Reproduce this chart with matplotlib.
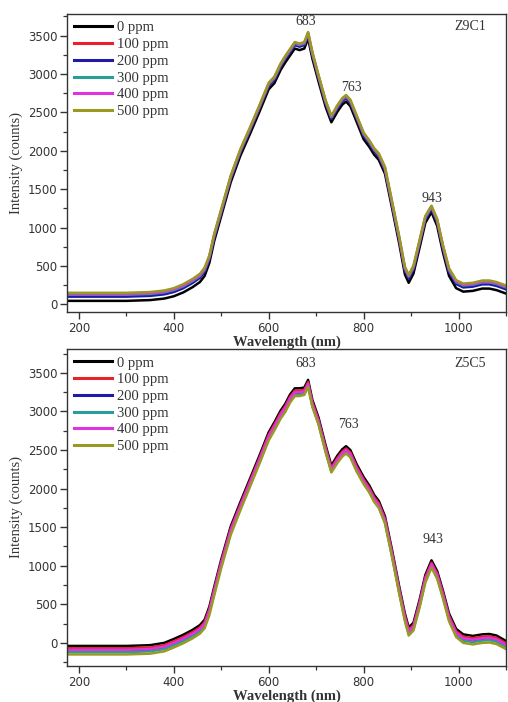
import numpy as np
import matplotlib.pyplot as plt
from matplotlib.ticker import MultipleLocator

# wavelength grid (nm), shared by both samples
wl = [175, 200, 250, 300, 350, 380, 400, 420, 440, 455,
      465, 475, 485, 500, 520, 540, 560, 580, 600, 612,
      625, 635, 645, 655, 665, 675, 683, 692, 705, 720,
      732, 745, 755, 763, 772, 785, 800, 812, 822, 832,
      845, 860, 875, 887, 895, 905, 918, 930, 943, 955,
      967, 980, 995, 1010, 1030, 1050, 1065, 1080, 1100]

labels = ['0 ppm', '100 ppm', '200 ppm', '300 ppm', '400 ppm', '500 ppm']
colors = ['#000000', '#e8212b', '#1c1ca8', '#2a9d98', '#e033e0', '#9a9a22']

# Z9C1 spectra
z9_0 = [45, 45, 45, 45, 55, 75, 105, 155, 225, 290,
        370, 540, 820, 1150, 1590, 1930, 2210, 2500, 2800, 2880,
        3050, 3150, 3240, 3330, 3310, 3330, 3460, 3200, 2900, 2570,
        2370, 2510, 2600, 2640, 2580, 2380, 2150, 2050, 1950, 1880,
        1700, 1250, 790, 390, 280, 400, 740, 1060, 1200, 1020,
        680, 370, 210, 165, 175, 205, 205, 185, 140]
z9_100 = [110, 110, 110, 110, 120, 140, 170, 220, 290, 355,
          435, 600, 875, 1200, 1640, 1980, 2260, 2550, 2850, 2930,
          3100, 3200, 3290, 3380, 3360, 3380, 3510, 3250, 2950, 2620,
          2420, 2560, 2650, 2690, 2630, 2430, 2200, 2100, 2000, 1930,
          1750, 1300, 845, 450, 345, 465, 800, 1115, 1255, 1075,
          740, 430, 275, 230, 240, 270, 270, 250, 205]
z9_200 = [100, 100, 100, 100, 110, 130, 160, 210, 280, 345,
          425, 590, 865, 1195, 1635, 1975, 2255, 2545, 2845, 2925,
          3095, 3195, 3285, 3375, 3355, 3375, 3505, 3245, 2945, 2615,
          2415, 2555, 2645, 2685, 2625, 2425, 2195, 2095, 1995, 1925,
          1745, 1295, 840, 440, 335, 455, 790, 1105, 1245, 1065,
          730, 420, 265, 220, 230, 260, 260, 240, 195]
z9_300 = [125, 125, 125, 125, 135, 155, 185, 235, 305, 370,
          450, 615, 890, 1215, 1655, 1995, 2275, 2565, 2865, 2945,
          3115, 3215, 3305, 3395, 3375, 3395, 3525, 3265, 2965, 2635,
          2435, 2575, 2665, 2705, 2645, 2445, 2215, 2115, 2015, 1945,
          1765, 1315, 860, 465, 360, 480, 815, 1130, 1265, 1090,
          755, 445, 290, 245, 255, 285, 285, 265, 220]
z9_400 = [135, 135, 135, 135, 145, 165, 195, 245, 315, 380,
          460, 625, 900, 1225, 1665, 2005, 2285, 2575, 2875, 2955,
          3125, 3225, 3315, 3405, 3385, 3405, 3535, 3275, 2975, 2645,
          2445, 2585, 2675, 2715, 2655, 2455, 2225, 2125, 2025, 1955,
          1775, 1325, 870, 475, 370, 490, 825, 1140, 1275, 1100,
          765, 455, 300, 255, 265, 295, 295, 275, 230]
z9_500 = [150, 150, 150, 150, 160, 180, 210, 262, 332, 398,
          478, 640, 915, 1240, 1675, 2015, 2295, 2585, 2885, 2965,
          3135, 3235, 3325, 3415, 3395, 3415, 3545, 3285, 2985, 2655,
          2455, 2595, 2685, 2725, 2665, 2465, 2235, 2135, 2035, 1965,
          1790, 1340, 885, 490, 385, 505, 840, 1150, 1285, 1110,
          775, 470, 315, 270, 280, 310, 310, 290, 245]

# Z5C5 spectra
z5_0 = [-40, -40, -40, -40, -30, 0, 50, 105, 170, 230,
        300, 470, 720, 1080, 1510, 1820, 2120, 2420, 2730, 2860,
        3010, 3100, 3220, 3300, 3300, 3310, 3410, 3150, 2920, 2560,
        2300, 2430, 2510, 2550, 2500, 2320, 2150, 2040, 1920, 1840,
        1640, 1200, 730, 380, 200, 260, 560, 880, 1070, 930,
        680, 380, 180, 110, 90, 110, 115, 95, 25]
z5_100 = [-70, -70, -70, -70, -60, -30, 20, 75, 140, 200,
          270, 440, 690, 1050, 1480, 1790, 2090, 2390, 2700, 2830,
          2980, 3070, 3190, 3270, 3270, 3280, 3380, 3120, 2890, 2530,
          2270, 2400, 2480, 2520, 2470, 2290, 2120, 2010, 1890, 1810,
          1610, 1170, 700, 350, 170, 230, 530, 850, 1040, 900,
          650, 350, 150, 80, 60, 80, 85, 65, -5]
z5_200 = [-100, -100, -100, -100, -90, -60, -10, 45, 110, 170,
          240, 410, 660, 1020, 1450, 1760, 2060, 2360, 2670, 2800,
          2950, 3040, 3160, 3240, 3240, 3250, 3350, 3090, 2860, 2500,
          2240, 2370, 2450, 2490, 2440, 2260, 2090, 1980, 1860, 1780,
          1580, 1140, 670, 320, 140, 200, 500, 820, 1010, 870,
          620, 320, 120, 50, 30, 50, 55, 35, -35]
z5_300 = [-120, -120, -120, -120, -110, -80, -30, 25, 90, 150,
          220, 390, 640, 1000, 1430, 1740, 2040, 2340, 2650, 2780,
          2930, 3020, 3140, 3220, 3220, 3230, 3330, 3070, 2840, 2480,
          2220, 2350, 2430, 2470, 2420, 2240, 2070, 1960, 1840, 1760,
          1560, 1120, 650, 300, 120, 180, 480, 800, 990, 850,
          600, 300, 100, 30, 10, 30, 35, 15, -55]
z5_400 = [-90, -90, -90, -90, -80, -50, 0, 55, 120, 180,
          250, 420, 670, 1030, 1460, 1770, 2070, 2370, 2680, 2810,
          2960, 3050, 3170, 3250, 3250, 3260, 3360, 3100, 2870, 2510,
          2250, 2380, 2460, 2500, 2450, 2270, 2100, 1990, 1870, 1790,
          1590, 1150, 680, 330, 150, 210, 510, 830, 1020, 880,
          630, 330, 130, 60, 40, 60, 65, 45, -25]
z5_500 = [-150, -150, -150, -150, -140, -110, -60, -5, 60, 120,
          190, 360, 610, 970, 1400, 1715, 2015, 2315, 2625, 2755,
          2905, 2995, 3115, 3200, 3200, 3215, 3320, 3060, 2830, 2470,
          2210, 2335, 2415, 2455, 2405, 2225, 2060, 1950, 1830, 1750,
          1550, 1110, 640, 280, 95, 160, 460, 780, 975, 830,
          580, 280, 75, 0, -20, 0, 5, -15, -80]

peak_txt = ['683', '763', '943']
z9_peak_pos = [(678, 3676), (775, 2829), (943, 1384)]
z5_peak_pos = [(678, 3620), (768, 2826), (947, 1341)]

serif = 'Liberation Serif'
sans = 'DejaVu Sans'
grey = '#333333'

fig = plt.figure(figsize=(5.08, 7.02), dpi=100)
fig.patch.set_facecolor('white')

ax1 = fig.add_axes([67/508, 1 - 312/702, 439/508, 298/702])
ax2 = fig.add_axes([67/508, 1 - 666/702, 439/508, 317/702])


def draw_panel(ax, series, ylim, peak_pos, tag, tag_y):
    for ys, lab, c in zip(series, labels, colors):
        ax.plot(wl, ys, color=c, lw=1.8, label=lab, solid_joinstyle='round')
    ax.set_xlim(175, 1100)
    ax.set_ylim(*ylim)
    ax.xaxis.set_major_locator(MultipleLocator(200))
    ax.xaxis.set_minor_locator(MultipleLocator(100))
    ax.yaxis.set_major_locator(MultipleLocator(500))
    ax.yaxis.set_minor_locator(MultipleLocator(250))
    ax.tick_params(which='both', direction='out', color=grey,
                   labelcolor=grey, top=False, right=False)
    ax.tick_params(which='major', length=5, width=1.0, labelsize=8.5, pad=2)
    ax.tick_params(which='minor', length=3, width=0.9)
    for lbl in ax.get_xticklabels() + ax.get_yticklabels():
        lbl.set_family(sans)
    for sp in ax.spines.values():
        sp.set_color(grey)
        sp.set_linewidth(1.0)
    ax.set_xlabel('Wavelength (nm)', family=serif, fontsize=10.5,
                  fontweight='bold', color=grey, labelpad=0.5)
    ax.set_ylabel('Intensity (counts)', family=serif, fontsize=10.5,
                  color=grey)
    ax.yaxis.set_label_coords(-0.100, 0.5)
    for t, (x, y) in zip(peak_txt, peak_pos):
        ax.text(x, y, t, family=serif, fontsize=10, color=grey,
                ha='center', va='center')
    ax.text(1025, tag_y, tag, family=serif, fontsize=10, color=grey,
            ha='center', va='center')
    leg = ax.legend(loc='upper left', frameon=False, handlelength=2.6,
                    handletextpad=0.3, labelspacing=0.24,
                    borderaxespad=0.2, borderpad=0.3,
                    prop={'family': serif, 'size': 10.5})
    for h in leg.get_lines():
        h.set_linewidth(2.2)
    for t in leg.get_texts():
        t.set_color(grey)


draw_panel(ax1, [z9_0, z9_100, z9_200, z9_300, z9_400, z9_500],
           (-100, 3780), z9_peak_pos, 'Z9C1', 3611)
draw_panel(ax2, [z5_0, z5_100, z5_200, z5_300, z5_400, z5_500],
           (-300, 3810), z5_peak_pos, 'Z5C5', 3620)

fig.savefig('out.png', dpi=100, facecolor='white')
